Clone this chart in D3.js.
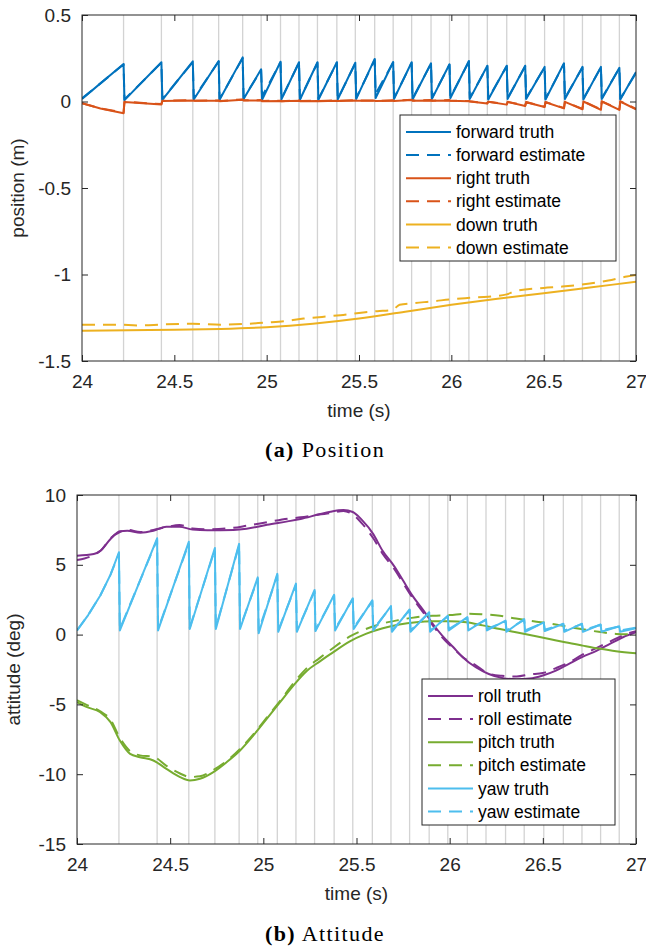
<!DOCTYPE html>
<html>
<head>
<meta charset="utf-8">
<script src="https://cdn.jsdelivr.net/npm/d3@7"></script>
<style>
  body { margin: 0; background: #fff; }
  svg { display: block; }
</style>
</head>
<body>
<div id="vis"></div>
<script>
// keyframe reset times (grey vertical lines), seconds
var resetTimes = [24.225, 24.43, 24.6, 24.74, 24.87, 24.97, 25.075, 25.175, 25.275, 25.38,
  25.48, 25.585, 25.685, 25.785, 25.89, 25.99, 26.095, 26.195, 26.3, 26.4,
  26.505, 26.61, 26.71, 26.81, 26.91];

var timeTicks = [24, 24.5, 25, 25.5, 26, 26.5, 27];
var posTicks = [0.5, 0, -0.5, -1, -1.5];
var attTicks = [10, 5, 0, -5, -10, -15];

////////// position (m) //////////
// value just before each reset, and just after it
var fwdTruthPeak = [0.217, 0.227, 0.232, 0.234, 0.255, 0.186, 0.23, 0.227, 0.227, 0.227,
  0.224, 0.246, 0.228, 0.227, 0.221, 0.215, 0.234, 0.207, 0.207, 0.207,
  0.2, 0.221, 0.2, 0.2, 0.195];
var fwdTruthBase = [0.008, 0.01, 0.012, 0.01, 0.015, 0.01, 0.012, 0.01, 0.01, 0.012,
  0.015, 0.02, 0.015, 0.012, 0.015, 0.02, 0.015, 0.012, 0.015, 0.015,
  0.012, 0.015, 0.012, 0.015, 0.012];
var fwdEstPeak = [0.214, 0.224, 0.228, 0.231, 0.25, 0.18, 0.226, 0.224, 0.223, 0.224,
  0.22, 0.24, 0.225, 0.223, 0.218, 0.212, 0.23, 0.204, 0.204, 0.203,
  0.197, 0.217, 0.197, 0.197, 0.192];
var fwdEstBase = [0.012, 0.014, 0.018, 0.014, 0.02, 0.03, 0.016, 0.014, 0.015, 0.016,
  0.02, 0.045, 0.02, 0.018, 0.02, 0.025, 0.02, 0.016, 0.02, 0.02,
  0.016, 0.02, 0.016, 0.02, 0.016];
var fwdStart = 0.015, fwdEnd = 0.17;

var rightTruthPeak = [-0.068, -0.018, 0.006, 0.004, 0.01, 0.006, 0.003, 0.004, 0.003, 0.004,
  0.006, 0.004, 0.005, 0.008, 0.006, 0.006, 0.002, -0.012, -0.018, -0.026,
  -0.032, -0.04, -0.045, -0.048, -0.048];
var rightTruthBase = [-0.003, 0.003, 0.004, 0.002, 0.006, 0.002, 0.001, 0.002, 0.002, 0.003,
  0.004, 0.003, 0.003, 0.005, 0.004, 0.004, 0.0, -0.002, -0.003, -0.004,
  -0.004, -0.002, 0.0, 0.0, 0.0];
var rightEstPeak = [-0.064, -0.015, 0.008, 0.006, 0.012, 0.008, 0.005, 0.006, 0.005, 0.006,
  0.008, 0.006, 0.007, 0.01, 0.008, 0.008, 0.003, -0.01, -0.016, -0.024,
  -0.03, -0.038, -0.043, -0.046, -0.046];
var rightEstBase = [-0.001, 0.004, 0.005, 0.003, 0.007, 0.003, 0.002, 0.003, 0.003, 0.004,
  0.005, 0.004, 0.004, 0.006, 0.005, 0.005, 0.001, -0.001, -0.002, -0.003,
  -0.003, -0.001, 0.001, 0.001, 0.001];
var rightStart = [[24, -0.01], [24.1, -0.04]], rightEnd = -0.045;

var downTruth = [[24, -1.325], [24.25, -1.322], [24.5, -1.32], [24.75, -1.315], [25, -1.305],
  [25.25, -1.285], [25.5, -1.255], [25.75, -1.215], [26, -1.175], [26.25, -1.14],
  [26.5, -1.108], [26.75, -1.075], [27, -1.042]];
var downEst = [[24, -1.29], [24.2, -1.29], [24.3, -1.295], [24.45, -1.288], [24.6, -1.285],
  [24.75, -1.29], [24.9, -1.285], [25.0, -1.278], [25.1, -1.27], [25.2, -1.255],
  [25.3, -1.245], [25.4, -1.235], [25.5, -1.222], [25.6, -1.212], [25.68, -1.205],
  [25.72, -1.175], [25.8, -1.165], [25.9, -1.155], [26.0, -1.143], [26.1, -1.135],
  [26.2, -1.128], [26.3, -1.115], [26.35, -1.095], [26.5, -1.078], [26.6, -1.07],
  [26.75, -1.052], [26.85, -1.035], [26.95, -1.012], [27, -1.003]];

////////// attitude (deg) //////////
var rollTruth = [[24.0, 5.65], [24.09, 5.77], [24.125, 6.0], [24.18, 6.85], [24.23, 7.4],
  [24.27, 7.44], [24.34, 7.3], [24.41, 7.44], [24.48, 7.73], [24.55, 7.73], [24.62, 7.52],
  [24.7, 7.48], [24.84, 7.5], [24.91, 7.58], [25.02, 7.87], [25.13, 8.11], [25.2, 8.28],
  [25.3, 8.62], [25.36, 8.8], [25.43, 8.92], [25.48, 8.78], [25.53, 8.2], [25.59, 7.2],
  [25.64, 6.0], [25.7, 4.94], [25.75, 3.87], [25.8, 2.79], [25.86, 1.72], [25.91, 0.76],
  [25.96, -0.07], [26.02, -0.91], [26.07, -1.62], [26.14, -2.34], [26.21, -2.82],
  [26.28, -3.1], [26.36, -3.2], [26.43, -3.15], [26.5, -2.93], [26.57, -2.58],
  [26.64, -2.1], [26.71, -1.62], [26.79, -1.15], [26.86, -0.67], [26.93, -0.19], [27.0, 0.17]];
var rollEst = [[24.0, 5.35], [24.04, 5.45], [24.09, 5.7], [24.13, 6.05], [24.18, 6.9],
  [24.23, 7.35], [24.27, 7.5], [24.34, 7.35], [24.41, 7.5], [24.48, 7.7], [24.55, 7.85],
  [24.62, 7.6], [24.7, 7.55], [24.84, 7.65], [24.91, 7.8], [25.02, 8.05], [25.13, 8.3],
  [25.2, 8.4], [25.3, 8.6], [25.36, 8.7], [25.43, 8.85], [25.48, 8.6], [25.53, 7.95],
  [25.59, 6.9], [25.64, 5.8], [25.7, 4.75], [25.75, 3.7], [25.8, 2.65], [25.86, 1.55],
  [25.91, 0.65], [25.96, -0.2], [26.02, -1.0], [26.07, -1.6], [26.14, -2.2], [26.21, -2.8],
  [26.28, -2.95], [26.36, -3.0], [26.43, -2.85], [26.5, -2.75], [26.57, -2.4], [26.64, -2.0],
  [26.71, -1.45], [26.79, -0.95], [26.86, -0.5], [26.93, -0.05], [27.0, 0.25]];

var pitchTruth = [[24.0, -4.84], [24.054, -5.2], [24.125, -5.56], [24.18, -6.27], [24.23, -7.59],
  [24.285, -8.54], [24.338, -8.78], [24.41, -9.02], [24.48, -9.62], [24.553, -10.21],
  [24.606, -10.45], [24.66, -10.33], [24.732, -9.85], [24.803, -9.14], [24.875, -8.3],
  [24.946, -7.23], [25.018, -6.04], [25.09, -4.84], [25.161, -3.65], [25.233, -2.6],
  [25.3, -1.95], [25.36, -1.4], [25.462, -0.5], [25.55, 0.05], [25.641, 0.45], [25.73, 0.72],
  [25.82, 0.88], [25.91, 0.95], [26.0, 0.96], [26.09, 0.88], [26.177, 0.66], [26.27, 0.4],
  [26.356, 0.17], [26.45, -0.08], [26.535, -0.31], [26.62, -0.55], [26.714, -0.79],
  [26.8, -1.0], [26.893, -1.19], [27, -1.33]];
var pitchEst = [[24.0, -4.7], [24.054, -5.05], [24.125, -5.5], [24.18, -6.1], [24.23, -7.4],
  [24.285, -8.35], [24.338, -8.65], [24.41, -8.75], [24.48, -9.4], [24.553, -9.95],
  [24.606, -10.2], [24.66, -10.15], [24.732, -9.7], [24.803, -9.05], [24.875, -8.2],
  [24.946, -7.15], [25.018, -5.95], [25.09, -4.75], [25.161, -3.5], [25.233, -2.4],
  [25.3, -1.7], [25.36, -1.1], [25.462, -0.15], [25.55, 0.4], [25.641, 0.8], [25.73, 1.05],
  [25.82, 1.25], [25.91, 1.35], [26.0, 1.4], [26.09, 1.5], [26.177, 1.45], [26.27, 1.35],
  [26.356, 1.15], [26.45, 0.95], [26.535, 0.8], [26.62, 0.6], [26.714, 0.38], [26.8, 0.2],
  [26.893, 0.05], [27, 0.02]];

var yawTruthPeak = [5.9, 6.9, 6.65, 6.2, 6.5, 4.1, 4.35, 3.65, 3.2, 2.85,
  2.6, 2.45, 2.05, 1.8, 1.6, 1.36, 1.25, 1.1, 1.0, 1.12,
  0.88, 0.78, 0.78, 0.72, 0.6];
var yawTruthBase = [0.3, 0.3, 0.4, 0.4, 0.4, 0.1, 0.2, 0.2, 0.25, 0.3,
  0.4, 0.3, 0.2, 0.2, 0.2, 0.3, 0.3, 0.3, 0.2, 0.2,
  0.25, 0.2, 0.2, 0.2, 0.2];
var yawEstPeak = [5.8, 6.8, 6.55, 6.1, 6.4, 4.0, 4.25, 3.55, 3.1, 2.8,
  2.55, 2.4, 2.0, 1.75, 1.55, 1.3, 1.2, 1.05, 0.95, 1.05,
  0.85, 0.75, 0.75, 0.7, 0.58];
var yawEstBase = [0.4, 0.4, 0.5, 0.5, 0.5, 0.3, 0.3, 0.3, 0.35, 0.4,
  0.5, 0.4, 0.3, 0.3, 0.3, 0.4, 0.4, 0.4, 0.3, 0.3,
  0.35, 0.3, 0.3, 0.3, 0.3];
var yawStart = [[24, 0.3], [24.06, 1.4], [24.125, 2.8], [24.18, 4.3]], yawEnd = 0.45;

// build a reset (sawtooth) series from its start points, per-reset values and end value
function sawtooth(start, peaks, bases, endValue) {
  var pts = start.slice();
  resetTimes.forEach(function(t, i) {
    pts.push([t, peaks[i]]);
    pts.push([t + 0.005, bases[i]]);
  });
  pts.push([27, endValue]);
  return pts;
}

var C = {
  blue: "#0072BD", orange: "#D95319", yellow: "#EDB120",
  purple: "#7E2F8E", green: "#77AC30", cyan: "#4DBEEE"
};
var sans = "'Liberation Sans', Arial, Helvetica, sans-serif";
var axisColor = "#262626";
var dash = "13,8";

var svg = d3.select("#vis").append("svg")
  .attr("width", 646)
  .attr("height", 948);

svg.append("rect").attr("width", 646).attr("height", 948).attr("fill", "#fff");

function drawPanel(p) {
  var x = d3.scaleLinear().domain([24, 27]).range([p.left, p.right]);
  var y = d3.scaleLinear().domain(p.yDomain).range([p.bottom, p.top]);
  var g = svg.append("g");

  var clipId = "clip" + p.id;
  svg.append("clipPath").attr("id", clipId)
    .append("rect")
    .attr("x", p.left).attr("y", p.top)
    .attr("width", p.right - p.left).attr("height", p.bottom - p.top);

  // keyframe lines
  g.append("g").selectAll("line")
    .data(resetTimes)
    .enter().append("line")
    .attr("x1", x).attr("x2", x)
    .attr("y1", p.top).attr("y2", p.bottom)
    .attr("stroke", "#d3d3d3")
    .attr("stroke-width", 1.3);

  // data
  var plot = g.append("g").attr("clip-path", "url(#" + clipId + ")");
  p.series.forEach(function(s) {
    var line = d3.line()
      .x(function(d) { return x(d[0]); })
      .y(function(d) { return y(d[1]); })
      .curve(s.smooth ? d3.curveMonotoneX : d3.curveLinear);
    plot.append("path")
      .datum(s.data)
      .attr("d", line)
      .attr("fill", "none")
      .attr("stroke", s.color)
      .attr("stroke-width", 2)
      .attr("stroke-linejoin", "round")
      .attr("stroke-dasharray", s.dashed ? dash : null);
  });

  // box
  g.append("rect")
    .attr("x", p.left).attr("y", p.top)
    .attr("width", p.right - p.left).attr("height", p.bottom - p.top)
    .attr("fill", "none").attr("stroke", axisColor).attr("stroke-width", 1);

  // axes with inward ticks
  var xAxis = d3.axisBottom(x).tickValues(timeTicks).tickSize(-6).tickPadding(14)
    .tickFormat(d3.format("~g"));
  g.append("g").attr("transform", "translate(0," + p.bottom + ")").call(xAxis);
  g.append("g").attr("transform", "translate(0," + p.top + ")")
    .call(d3.axisTop(x).tickValues(timeTicks).tickSize(-6).tickFormat(""));
  var yAxis = d3.axisLeft(y).tickValues(p.yTicks).tickSize(-6).tickPadding(11)
    .tickFormat(function(d) { return d3.format("~g")(d).replace("\u2212", "-"); });
  g.append("g").attr("transform", "translate(" + p.left + ",0)").call(yAxis);
  g.append("g").attr("transform", "translate(" + p.right + ",0)")
    .call(d3.axisRight(y).tickValues(p.yTicks).tickSize(-6).tickFormat(""));

  g.selectAll(".domain").remove();
  g.selectAll(".tick line").attr("stroke", axisColor);
  g.selectAll(".tick text")
    .attr("font-family", sans).attr("font-size", 19).attr("fill", axisColor);

  // axis labels
  g.append("text")
    .attr("x", (p.left + p.right) / 2).attr("y", p.bottom + 56)
    .attr("text-anchor", "middle")
    .attr("font-family", sans).attr("font-size", 19).attr("fill", axisColor)
    .text("time (s)");
  g.append("text")
    .attr("transform", "translate(" + p.yLabelX + "," + (p.top + p.bottom) / 2 + ") rotate(-90)")
    .attr("text-anchor", "middle")
    .attr("font-family", sans).attr("font-size", 19).attr("fill", axisColor)
    .text(p.yLabel);

  // legend
  var L = p.legend;
  var lg = g.append("g");
  lg.append("rect")
    .attr("x", L.x).attr("y", L.y).attr("width", L.w).attr("height", L.h)
    .attr("fill", "#fff").attr("stroke", axisColor).attr("stroke-width", 1);
  var legendSeries = p.series.slice().sort(function(a, b) { return a.order - b.order; });
  legendSeries.forEach(function(s, i) {
    var cy = L.y + 17 + i * 23.1;
    lg.append("line")
      .attr("x1", L.x + 6).attr("x2", L.x + 51)
      .attr("y1", cy).attr("y2", cy)
      .attr("stroke", s.color).attr("stroke-width", 2)
      .attr("stroke-dasharray", s.dashed ? dash : null);
    lg.append("text")
      .attr("x", L.x + 56).attr("y", cy)
      .attr("dy", "0.35em")
      .attr("font-family", sans).attr("font-size", 17.5).attr("fill", "#000")
      .text(s.name);
  });

  // caption
  var cap = svg.append("text")
    .attr("x", 325).attr("y", p.captionY)
    .attr("text-anchor", "middle")
    .attr("font-family", "'Liberation Serif', 'Times New Roman', serif")
    .attr("font-size", 22).attr("letter-spacing", 1.4).attr("fill", "#000");
  cap.append("tspan").attr("font-weight", "bold").text(p.caption[0]);
  cap.append("tspan").text(" " + p.caption[1]);
}

drawPanel({
  id: "a", left: 82, right: 636, top: 15, bottom: 361,
  yDomain: [-1.5, 0.5], yTicks: posTicks, yLabel: "position (m)", yLabelX: 24,
  legend: { x: 400, y: 115, w: 216, h: 146 },
  caption: ["(a)", "Position"], captionY: 457,
  series: [
    { name: "forward truth", color: C.blue, order: 0,
      data: sawtooth([[24, fwdStart]], fwdTruthPeak, fwdTruthBase, fwdEnd) },
    { name: "forward estimate", color: C.blue, dashed: true, order: 1,
      data: sawtooth([[24, fwdStart + 0.003]], fwdEstPeak, fwdEstBase, fwdEnd - 0.005) },
    { name: "right truth", color: C.orange, order: 2,
      data: sawtooth(rightStart, rightTruthPeak, rightTruthBase, rightEnd) },
    { name: "right estimate", color: C.orange, dashed: true, order: 3,
      data: sawtooth(rightStart, rightEstPeak, rightEstBase, rightEnd + 0.002) },
    { name: "down truth", color: C.yellow, smooth: true, order: 4, data: downTruth },
    { name: "down estimate", color: C.yellow, dashed: true, smooth: true, order: 5, data: downEst }
  ]
});

drawPanel({
  id: "b", left: 77, right: 636, top: 495, bottom: 844,
  yDomain: [-15, 10], yTicks: attTicks, yLabel: "attitude (deg)", yLabelX: 20,
  legend: { x: 422, y: 679, w: 193, h: 146 },
  caption: ["(b)", "Attitude"], captionY: 941,
  series: [
    { name: "roll truth", color: C.purple, smooth: true, order: 0, data: rollTruth },
    { name: "roll estimate", color: C.purple, dashed: true, smooth: true, order: 1, data: rollEst },
    { name: "pitch truth", color: C.green, smooth: true, order: 2, data: pitchTruth },
    { name: "pitch estimate", color: C.green, dashed: true, smooth: true, order: 3, data: pitchEst },
    { name: "yaw truth", color: C.cyan, order: 4,
      data: sawtooth(yawStart, yawTruthPeak, yawTruthBase, yawEnd) },
    { name: "yaw estimate", color: C.cyan, dashed: true, order: 5,
      data: sawtooth(yawStart, yawEstPeak, yawEstBase, yawEnd + 0.05) }
  ]
});
</script>
</body>
</html>
